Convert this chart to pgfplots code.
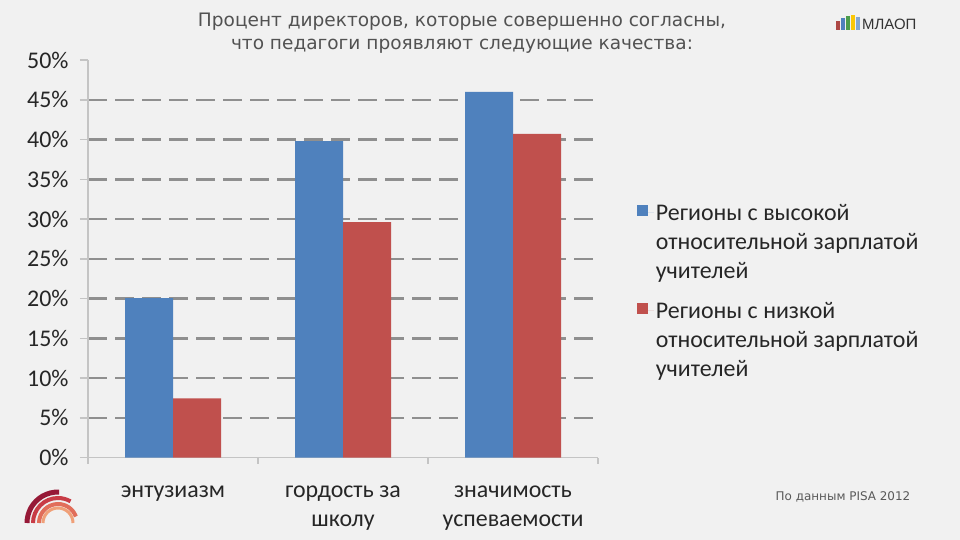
\documentclass[border=0pt]{standalone}
\usepackage{fontspec}
\setmainfont{Carlito}
\newfontfamily\titlefont{DejaVu Sans}
\newfontfamily\logofont{Liberation Sans}
\usepackage{pgfplots}
\pgfplotsset{compat=1.18}
\definecolor{bg}{HTML}{F1F1F1}
\definecolor{cblue}{HTML}{4F81BD}
\definecolor{cred}{HTML}{C0504D}
\definecolor{gridc}{HTML}{8F8F8F}
\definecolor{axc}{HTML}{C4C4C4}
\definecolor{txt}{HTML}{262626}
\begin{document}
\begin{tikzpicture}[x=1bp,y=1bp]
\fill[bg] (0,0) rectangle (960,-540);
\node[font=\titlefont\fontsize{18.6}{22.5}\selectfont, text=black!68, align=center] at (462,-33)
  {Процент директоров, которые совершенно согласны,\\что педагоги проявляют следующие качества:};
% logo top right
\fill[cred!90!black] (836,-30) rectangle (840,-21);
\fill[cblue] (841,-30) rectangle (845,-18);
\fill[green!45!black!70] (846,-30) rectangle (850,-16);
\fill[yellow!60!orange] (851,-30) rectangle (855,-15);
\fill[cblue!70] (856,-30) rectangle (860,-17);
\node[font=\logofont\fontsize{15}{15}\selectfont, text=black!80, anchor=base west, inner sep=0] at (862,-30) {МЛАОП};
% logo bottom left
\draw[line width=5bp, color={rgb,255:red,150;green,25;blue,55}] (27,-523) arc (180:88:31);
\draw[line width=4bp, color={rgb,255:red,200;green,60;blue,70}] (33,-523) arc (180:60:25);
\draw[line width=4bp, color={rgb,255:red,225;green,110;blue,90}] (39,-523) arc (180:20:19);
\draw[line width=3bp, color={rgb,255:red,240;green,160;blue,120}] (43,-523) arc (180:0:15);
\node[font=\titlefont\fontsize{12}{12}\selectfont, text=black!65] at (843,-497) {По данным PISA 2012};

\begin{axis}[
  scale only axis, width=510bp, height=397.5bp,
  at={(88bp,-457.5bp)}, anchor=south west,
  xmin=-0.5, xmax=2.5, ymin=0, ymax=50,
  ybar=0pt, bar width=48bp,
  axis lines=left,
  axis line style={-, draw=axc, line width=1.5bp},
  tick align=outside,
  xtick={0,1,2},
  xticklabels={энтузиазм, {гордость за\\школу}, {значимость\\успеваемости}},
  minor xtick={-0.5,0.5,1.5,2.5},
  major x tick style={draw=none},
  minor x tick style={draw=axc, line width=1.5bp},
  minor tick length=6bp,
  ytick={5,10,...,45},
  extra y ticks={0,50},
  extra y tick style={grid=none},
  y tick style={draw=axc, line width=1.5bp},
  major tick length=8bp,
  ymajorgrids,
  major grid style={draw=gridc, line width=2.5bp, dash pattern=on 19bp off 8bp},
  /pgf/number format/assume math mode=true,
  yticklabel={\pgfmathprintnumber{\tick}\%},
  yticklabel style={font=\fontsize{24}{24}\selectfont, text=txt, xshift=-8bp},
  xticklabel style={align=center, font=\fontsize{24}{29}\selectfont, text=txt, yshift=-17bp},
  legend cell align=left,
  legend style={at={(1.07,0.418)}, anchor=west, draw=none, fill=none,
    font=\fontsize{24}{29}\selectfont, text=txt, cells={anchor=west, align=left}, row sep=19bp},
  legend image code/.code={\fill[#1,draw=none] (0bp,26.5bp) rectangle (11bp,37.5bp);
    \path (0bp,30bp) -- (17bp,30bp);},
]
\addplot[fill=cblue, draw=none] coordinates {(0,20.05) (1,39.8) (2,46.0)};
\addlegendentry{{Регионы с высокой\\относительной зарплатой\\учителей}}
\addplot[fill=cred, draw=none] coordinates {(0,7.45) (1,29.6) (2,40.7)};
\addlegendentry{{Регионы с низкой\\относительной зарплатой\\учителей}}
\end{axis}
\end{tikzpicture}
\end{document}
